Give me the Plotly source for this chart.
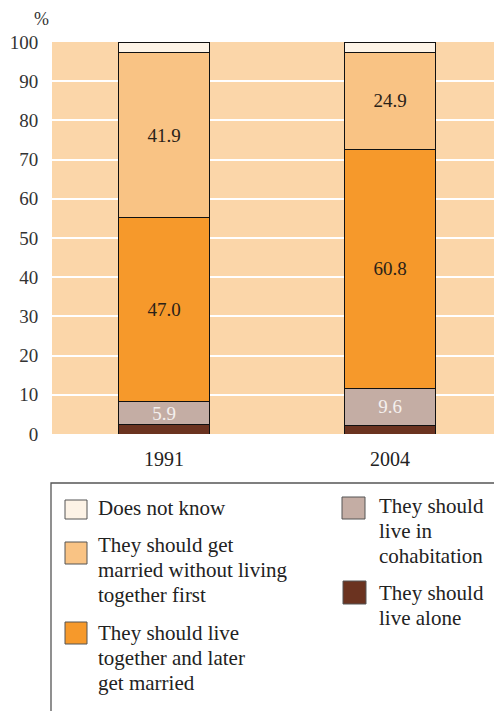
import plotly.graph_objects as go

years = ["1991", "2004"]
series_names = [
    "They should live alone",
    "They should live in cohabitation",
    "They should live together and later get married",
    "They should get married without living together first",
    "Does not know",
]
alone = [2.4, 2.1]
cohabitation = [5.9, 9.6]
together_then_married = [47.0, 60.8]
married_first = [41.9, 24.9]
does_not_know = [2.8, 2.6]
values = [alone, cohabitation, together_then_married, married_first, does_not_know]
show_labels = [False, True, True, True, False]
colors = ["#6B3320", "#C4ADA4", "#F6992B", "#F9C384", "#FDF3E6"]
label_colors = ["#222222", "#F4F0EE", "#2A2218", "#2A2218", "#222222"]

legend_lines = {
    "Does not know": ["Does not know"],
    "They should get married without living together first": ["They should get", "married without living", "together first"],
    "They should live together and later get married": ["They should live", "together and later", "get married"],
    "They should live in cohabitation": ["They should", "live in", "cohabitation"],
    "They should live alone": ["They should", "live alone"],
}
yticks = [0, 10, 20, 30, 40, 50, 60, 70, 80, 90, 100]

FONT = "Liberation Serif"
W, H = 494, 711
L, R, T, B = 52, 0, 42, 277

fig = go.Figure()
for name, vals, show, col, lc in zip(series_names, values, show_labels, colors, label_colors):
    fig.add_trace(go.Bar(
        x=years, y=vals, name=name,
        marker=dict(color=col, line=dict(color="#111111", width=1)),
        width=0.40,
        text=[f"{v:.1f}" for v in vals] if show else None,
        textposition="inside" if show else "none",
        insidetextanchor="middle",
        constraintext="none",
        textangle=0,
        textfont=dict(family=FONT, size=19, color=lc),
        showlegend=False,
    ))

# pixel -> paper helpers
pw = W - L - R
ph = H - T - B
def px(x):
    return (x - L) / pw
def py(y):
    return (H - B - y) / ph

shapes = []
annotations = []
# legend frame
shapes.append(dict(type="path", xref="paper", yref="paper",
                   path=f"M {px(51)},{py(720)} L {px(51)},{py(483)} L {px(500)},{py(483)}",
                   line=dict(color="#555555", width=1.3)))

LINE_H = 25
legend_layout = [
    # name, swatch (x0, y0, x1, y1), text x, first-line center y
    ("Does not know", (65, 500, 87, 519), 96, 508),
    ("They should get married without living together first", (65, 542, 87, 564), 96, 545),
    ("They should live together and later get married", (65, 622, 87, 644), 96, 633),
    ("They should live in cohabitation", (342, 497, 365, 519), 377, 506),
    ("They should live alone", (343, 581, 366, 604), 377, 593),
]
for name, (x0, y0, x1, y1), tx, ty in legend_layout:
    col = colors[series_names.index(name)]
    shapes.append(dict(type="rect", xref="paper", yref="paper",
                       x0=px(x0), x1=px(x1), y0=py(y1), y1=py(y0),
                       fillcolor=col, line=dict(color="#555555", width=1)))
    for i, line in enumerate(legend_lines[name]):
        annotations.append(dict(xref="paper", yref="paper", x=px(tx), y=py(ty + i * LINE_H),
                                xanchor="left", yanchor="middle", align="left",
                                text=line, showarrow=False,
                                font=dict(family=FONT, size=21, color="#222222")))

annotations.append(dict(xref="paper", yref="paper", x=px(41), y=py(19),
                        xanchor="center", yanchor="middle", text="%", showarrow=False,
                        font=dict(family=FONT, size=18, color="#333333")))

fig.update_layout(
    width=W, height=H,
    margin=dict(l=L, r=R, t=T, b=B, pad=0),
    barmode="stack",
    plot_bgcolor="#FBD6A9",
    paper_bgcolor="white",
    font=dict(family=FONT, size=18, color="#333333"),
    shapes=shapes,
    annotations=annotations,
    showlegend=False,
    uniformtext=dict(minsize=19, mode="show"),
    xaxis=dict(range=[-0.496, 1.46], showgrid=False, zeroline=False,
               ticks="outside", ticklen=7, tickcolor="rgba(0,0,0,0)",
               tickfont=dict(family=FONT, size=20, color="#222222"), fixedrange=True),
    yaxis=dict(range=[0, 100], tickvals=yticks, showgrid=True, gridcolor="white",
               gridwidth=2, zeroline=False, ticks="outside", ticklen=9,
               tickcolor="rgba(0,0,0,0)",
               tickfont=dict(family=FONT, size=19, color="#333333"), fixedrange=True),
)

fig.write_html("out.html")
